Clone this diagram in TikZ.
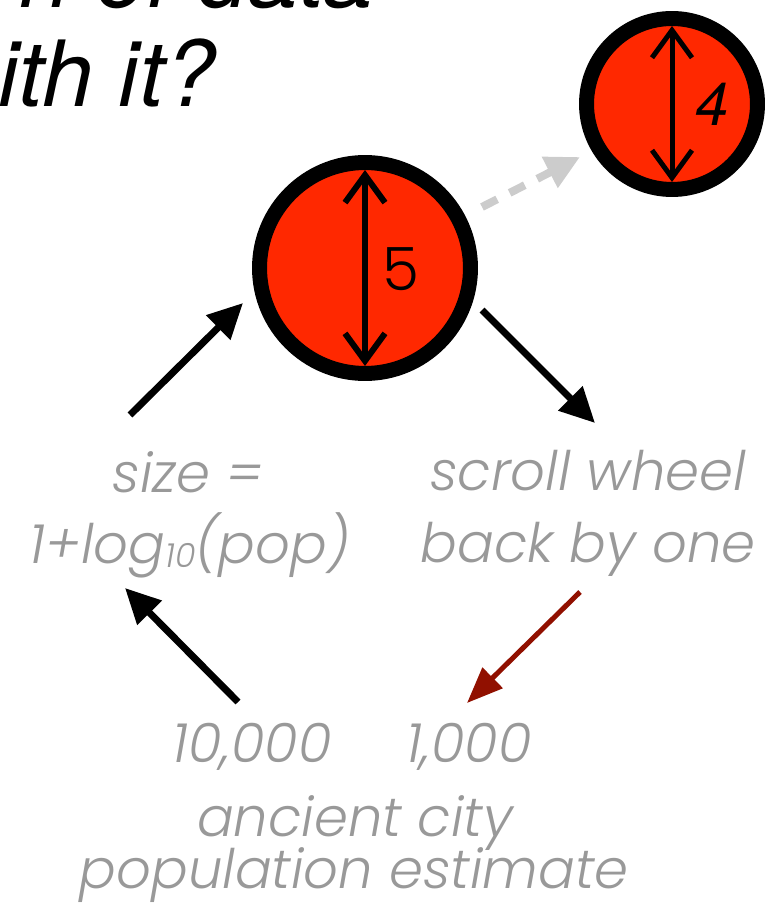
\documentclass[tikz,border=0pt]{standalone}
\usepackage{fontspec}
\setmainfont{TeX Gyre Heros}
\newfontfamily\gothic{Poppins}[UprightFont={* Light},ItalicFont={* Light Italic}]
\usetikzlibrary{arrows.meta}
\definecolor{discred}{RGB}{255,40,0}
\definecolor{labelgray}{RGB}{153,153,153}
\definecolor{paledash}{RGB}{204,204,204}
\definecolor{darkrust}{RGB}{145,16,0}

\begin{document}
\begin{tikzpicture}[x=0.02cm,y=-0.02cm,
  disc/.style={circle,draw=black,fill=discred,line width=0.3cm,inner sep=0pt},
  span/.style={{Straight Barb[length=0.55cm,width=0.8cm]}-{Straight Barb[length=0.55cm,width=0.8cm]},line width=0.12cm},
  flow/.style={-{Triangle[length=0.7cm,width=0.66cm]},line width=0.14cm},
  caption/.style={font=\gothic\itshape\fontsize{31}{31}\selectfont,text=labelgray,inner sep=0pt,anchor=base}]
  \useasboundingbox (0,0) rectangle (776,908);
  % heading, cut at the top and left edge
  \node[anchor=base east,inner sep=0pt,font=\itshape\fontsize{52}{52}\selectfont] (heading) at (375,8) {n of data};
  \node[anchor=base west,inner sep=0pt,font=\itshape\fontsize{52}{52}\selectfont] (question) at (-2,107) {ith it?};
  % the two city discs
  \node[disc,minimum size=4.22cm] (five) at (365,268) {};
  \node[disc,minimum size=3.42cm] (four) at (672,104) {};
  \draw[span] ([yshift=-0.3cm]five.north) -- ([yshift=0.3cm]five.south);
  \draw[span,line width=0.1cm] ([yshift=-0.3cm]four.north) -- ([yshift=0.3cm]four.south);
  \node[font=\gothic\fontsize{34}{34}\selectfont] (fivelab) at (401,269) {5};
  \node[font=\itshape\fontsize{34}{34}\selectfont] (fourlab) at (712,104) {4};
  % the labels round the loop
  \node[caption] (sizeA) at (188,492) {size =};
  \node[caption] (sizeB) at (190,563) {1+log\raisebox{-0.08cm}{\fontsize{19}{19}\selectfont 10}(pop)};
  \node[caption] (wheelA) at (588,490) {scroll wheel};
  \node[caption] (wheelB) at (588,562) {back by one};
  \node[caption] (popTen) at (252,762) {10,000};
  \node[caption] (popOne) at (469,762) {1,000};
  \node[caption] (cityA) at (355,836) {ancient city};
  \node[caption] (cityB) at (354,888) {population estimate};
  % arrow ends
  \coordinate (upFrom) at (130,415); \coordinate (upTo) at (243,303);
  \coordinate (downFrom) at (482,310); \coordinate (downTo) at (595,423);
  \coordinate (backFrom) at (238,702); \coordinate (backTo) at (125,588);
  \coordinate (stepFrom) at (580,592); \coordinate (stepTo) at (467,703);
  \coordinate (nextFrom) at (482,207); \coordinate (nextTo) at (580,157);
  \draw[flow] (upFrom) -- (upTo);
  \draw[flow] (downFrom) -- (downTo);
  \draw[flow] (backFrom) -- (backTo);
  \draw[-{Triangle[length=0.72cm,width=0.56cm]},line width=0.1cm,darkrust] (stepFrom) -- (stepTo);
  \draw[-{Triangle[length=0.68cm,width=0.66cm]},line width=0.16cm,paledash,dash pattern=on 0.34cm off 0.28cm] (nextFrom) -- (nextTo);
\end{tikzpicture}
\end{document}
